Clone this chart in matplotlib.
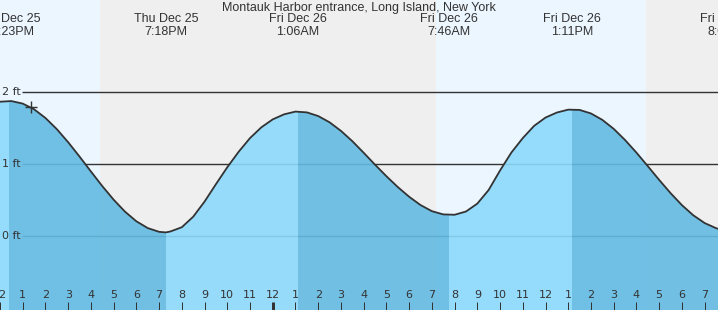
# Tide chart for Montauk Harbor entrance
import matplotlib
matplotlib.use("Agg")
import matplotlib.pyplot as plt

# Hours since Dec 25 00:00 and predicted height (ft)
hours = [12.0, 12.5, 13.0, 13.5, 14.0, 14.5, 15.0, 15.5, 16.0, 16.5,
         17.0, 17.5, 18.0, 18.5, 19.0, 19.3, 19.5, 20.0, 20.5, 21.0,
         21.5, 22.0, 22.5, 23.0, 23.5, 24.0, 24.5, 25.0, 25.5, 26.0,
         26.5, 27.0, 27.5, 28.0, 28.5, 29.0, 29.5, 30.0, 30.5, 31.0,
         31.5, 32.0, 32.5, 33.0, 33.5, 34.0, 34.5, 35.0, 35.5, 36.0,
         36.5, 37.0, 37.5, 38.0, 38.5, 39.0, 39.5, 40.0, 40.5, 41.0,
         41.5, 42.0, 42.5, 43.0, 43.5, 43.6]
heights = [1.865, 1.874, 1.839, 1.760, 1.639, 1.484, 1.302, 1.103, 0.896, 0.693,
           0.504, 0.338, 0.204, 0.110, 0.058, 0.050, 0.063, 0.122, 0.268, 0.478,
           0.720, 0.955, 1.170, 1.360, 1.510, 1.620, 1.690, 1.728, 1.717, 1.666,
           1.579, 1.460, 1.317, 1.156, 0.990, 0.830, 0.680, 0.545, 0.430, 0.345,
           0.300, 0.295, 0.340, 0.450, 0.640, 0.910, 1.160, 1.360, 1.530, 1.645,
           1.715, 1.755, 1.751, 1.702, 1.613, 1.488, 1.333, 1.158, 0.970, 0.779,
           0.596, 0.429, 0.288, 0.180, 0.109, 0.100]

# High / low tide times (hours) and their labels
extreme_hours = [12.38, 19.30, 25.10, 31.77, 37.18, 44.08]
extreme_labels = ["Thu Dec 25\n12:23PM", "Thu Dec 25\n7:18PM", "Fri Dec 26\n1:06AM",
                  "Fri Dec 26\n7:46AM", "Fri Dec 26\n1:11PM", "Fri Dec 26\n8:05PM"]

# Daylight periods (sunrise, sunset) in hours
daylight = [(0.0, 16.40), (31.18, 40.42)]

# Current time marker
now_hour = 13.36
now_height = 1.79

title = "Montauk Harbor entrance, Long Island, New York"

# Colors
day_color = "#ECF6FF"
night_color = "#EFEFEF"
rising_color = "#8CD9FC"
falling_color = "#63BBE3"
text_color = "#333333"

x_start = 12.0
x_end = 12.0 + 718 / 22.73

fig = plt.figure(figsize=(7.18, 3.10), dpi=100)
ax = fig.add_axes([0, 0, 1, 1])
ax.set_xlim(x_start, x_end)
ax.set_ylim(-74 / 72, 236 / 72)
ax.axis("off")

# Night background, then daylight bands
ax.axvspan(x_start, x_end, color=night_color, zorder=0, lw=0)
for sunrise, sunset in daylight:
    ax.axvspan(sunrise, sunset, color=day_color, zorder=0, lw=0)

# Height gridlines
for level in [0, 1, 2]:
    ax.hlines(level, x_start + 22 / 22.73, x_end, color=text_color, lw=1, zorder=1)
    ax.text(x_start + 2.5 / 22.73, level, "%d ft" % level, ha="left", va="center",
            fontsize=8, color=text_color, family="DejaVu Sans", zorder=5)

# Invisible fill under the curve, used to clip the colored bands
poly = ax.fill_between(hours, -2, heights, facecolor="none", edgecolor="none")
clip = poly.get_paths()[0]

# Rising sections light, falling sections dark
bounds = [x_start - 1] + extreme_hours
for i in range(len(bounds) - 1):
    color = rising_color if i % 2 == 0 else falling_color
    span = ax.axvspan(bounds[i], bounds[i + 1], color=color, alpha=0.9, lw=0, zorder=2)
    span.set_clip_path(clip, ax.transData)

# Tide curve
ax.plot(hours, heights, color=text_color, lw=1.3, zorder=3, solid_joinstyle="round")
ax.plot(now_hour, now_height, marker="+", ms=8, mew=1, color=text_color, zorder=4)

# Title and tide labels
ax.text(0.5, 1 - 7.5 / 310, title, transform=ax.transAxes, ha="center", va="center",
        fontsize=9, color=text_color, family="Liberation Sans")
for h, label in zip(extreme_hours, extreme_labels):
    ax.text(h, 236 / 72 - 25.5 / 72, label, ha="center", va="center", fontsize=9,
            color=text_color, family="Liberation Sans", linespacing=1.1, clip_on=False)

# Hour ticks along the bottom
tr = ax.get_xaxis_transform()
for h in range(12, 44):
    label = h % 12
    if label == 0:
        label = 12
    ax.text(h, 15 / 310, str(label), transform=tr, ha="center", va="center",
            fontsize=8, color=text_color, family="DejaVu Sans", zorder=5)
    width = 3 if h % 24 == 0 else 1
    ax.vlines(h, 0, 8 / 310, transform=tr, color=text_color, lw=width * 0.72, zorder=5)

plt.savefig("out.png", dpi=100)
